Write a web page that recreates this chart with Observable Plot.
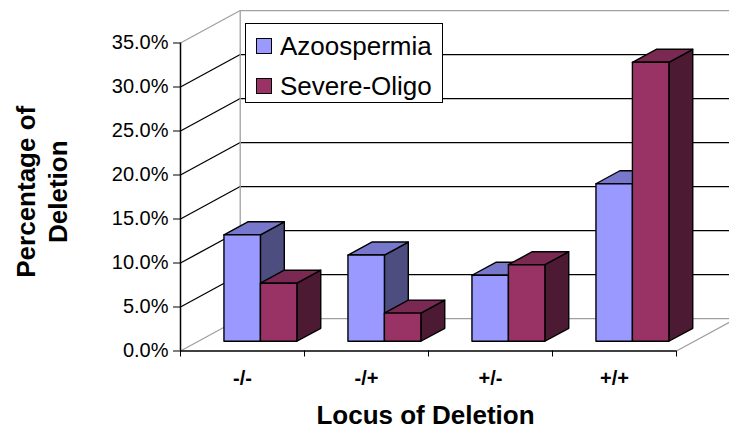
<!DOCTYPE html>
<html>
<head>
<meta charset="utf-8">
<script src="https://cdn.jsdelivr.net/npm/d3@7"></script>
<script src="https://cdn.jsdelivr.net/npm/@observablehq/plot@0.6"></script>
<style>
  body { margin: 0; background: #fff; }
  #chart { position: relative; width: 729px; height: 432px; overflow: hidden; }
  #legend { position: absolute; left: 245px; top: 23px; width: 196px; height: 78px;
            border: 1.5px solid #000; background: #fff;
            font-family: "Liberation Sans", Arial, sans-serif; font-size: 26px; color: #000; }
  #legend .item { position: absolute; left: 10px; height: 30px; display: flex; align-items: center; }
  #legend .sw { width: 14px; height: 14px; border: 1.2px solid #000; margin-right: 8px; }
</style>
</head>
<body>
<div id="chart"></div>
<script>
// ---- data ----
const categories = ["-/-", "-/+", "+/-", "+/+"];
const seriesNames = ["Azoospermia", "Severe-Oligo"];
const azoospermia = [12.1, 9.8, 7.5, 17.9];
const severeOligo = [6.6, 3.2, 8.7, 31.7];
const yTicks = [0, 5, 10, 15, 20, 25, 30, 35];

// ---- style / geometry ----
const palettes = [
  { front: "#9999FF", top: "#7777CC", side: "#4D4D80" },
  { front: "#993366", top: "#7A2952", side: "#4D1A33" }
];
const DX = 0.4815;   // full depth shift in category units
const DY = 3.69;     // full depth shift in percent units
const D0 = 0.30, D1 = 0.70;  // bar depth span
const BAR = 0.294;   // bar width (category units)
const NCAT = categories.length;
const YMAX = d3.max(yTicks);
const GRAY = "#A0A0A0";

const values = [azoospermia, severeOligo];

// polygons for bars (painter's order)
const polys = [];
categories.forEach((c, i) => {
  values.forEach((vals, s) => {
    const v = vals[i];
    const xl = i + 0.5 - BAR + s * BAR;
    const xr = xl + BAR;
    const P = (x, d, y) => ({ x: x + d * DX, y: y + d * DY });
    const pal = palettes[s];
    const id = `${i}-${s}`;
    const push = (face, fill, pts) => pts.forEach(p => polys.push({ id: id + face, fill, ...p }));
    push("side", pal.side, [P(xr, D0, 0), P(xr, D1, 0), P(xr, D1, v), P(xr, D0, v)]);
    push("top", pal.top, [P(xl, D0, v), P(xr, D0, v), P(xr, D1, v), P(xl, D1, v)]);
    push("front", pal.front, [P(xl, D0, 0), P(xr, D0, 0), P(xr, D0, v), P(xl, D0, v)]);
  });
});

// wall segments
const segs = [];
yTicks.forEach(t => {
  const edge = (t === 0 || t === YMAX);
  segs.push({ x1: 0, y1: t, x2: DX, y2: t + DY, stroke: edge ? GRAY : "#000" });
  segs.push({ x1: DX, y1: t + DY, x2: NCAT + DX, y2: t + DY, stroke: edge ? GRAY : "#000" });
});
segs.push({ x1: DX, y1: DY, x2: DX, y2: YMAX + DY, stroke: GRAY });
segs.push({ x1: NCAT, y1: 0, x2: NCAT + DX, y2: DY, stroke: GRAY });
segs.push({ x1: NCAT + DX, y1: DY, x2: NCAT + DX, y2: YMAX + DY, stroke: GRAY });

const font = "'Liberation Sans', Arial, sans-serif";

const plot = Plot.plot({
  width: 729,
  height: 432,
  marginLeft: 180,
  marginRight: 0,
  marginTop: 0,
  marginBottom: 81.5,
  style: { fontFamily: font, fontSize: "20px", color: "#000", background: "#fff", overflow: "visible" },
  x: { domain: [0, 4.4274], axis: null },
  y: { domain: [0, 39.83], axis: null },
  color: { type: "identity" },
  marks: [
    Plot.link(segs, { x1: "x1", y1: "y1", x2: "x2", y2: "y2", stroke: "stroke", strokeWidth: 1.3 }),
    Plot.line(polys, { x: "x", y: "y", z: "id", fill: "fill", stroke: "#000", strokeWidth: 1.4,
                       strokeLinejoin: "round", curve: "linear-closed" }),
    Plot.ruleX([0], { y1: 0, y2: YMAX, stroke: "#000", strokeWidth: 1.5 }),
    Plot.ruleY([0], { x1: 0, x2: NCAT, stroke: "#000", strokeWidth: 1.5 }),
    Plot.axisY({ ticks: yTicks, tickFormat: d => d.toFixed(1) + "%", tickSize: 7, tickPadding: 5,
                 fontSize: 20, label: null, stroke: "#000" }),
    Plot.axisX({ ticks: d3.range(NCAT + 1), tickFormat: () => "", tickSize: 6, label: null }),
    Plot.text(categories, { x: (d, i) => i + 0.5, frameAnchor: "bottom", dy: 27.5, lineAnchor: "middle",
                            fontSize: 20, fontWeight: "bold", fill: "#000" }),
    Plot.text(["Locus of Deletion"], { frameAnchor: "bottom", dx: -29.5, dy: 65, lineAnchor: "middle",
                            fontSize: 26, fontWeight: "bold", fill: "#000" }),
    Plot.text(["Percentage of\nDeletion"], { frameAnchor: "left", dx: -139.5, dy: 16, rotate: -90,
                            lineAnchor: "middle", textAnchor: "middle", lineHeight: 1.2,
                            fontSize: 26, fontWeight: "bold", fill: "#000" })
  ]
});

const chart = document.getElementById("chart");
chart.appendChild(plot);

// legend
const legend = document.createElement("div");
legend.id = "legend";
seriesNames.forEach((name, s) => {
  const item = document.createElement("div");
  item.className = "item";
  item.style.top = (7 + s * 40) + "px";
  const sw = document.createElement("div");
  sw.className = "sw";
  sw.style.background = palettes[s].front;
  const label = document.createElement("span");
  label.textContent = name;
  item.appendChild(sw);
  item.appendChild(label);
  legend.appendChild(item);
});
chart.appendChild(legend);
</script>
</body>
</html>
